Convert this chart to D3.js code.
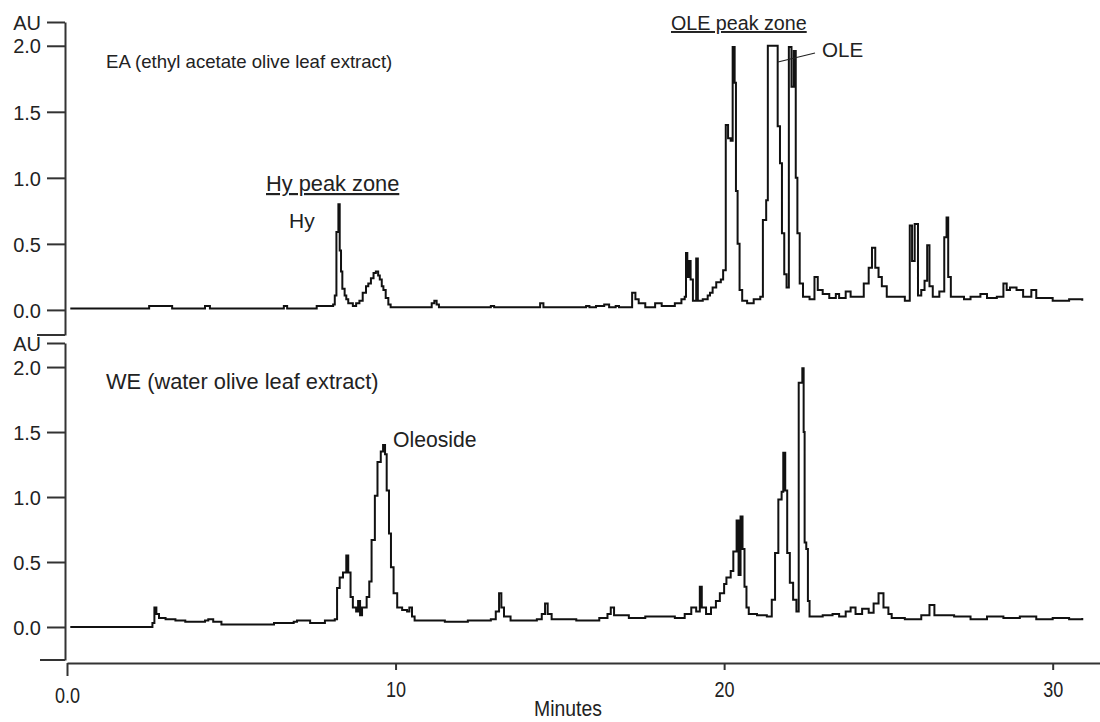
<!DOCTYPE html>
<html lang="en">
<head>
    <meta charset="UTF-8">
    <title>Olive leaf extract chromatograms</title>
    <style>
        body { margin: 0; background: #fff; }
        svg { display: block; font-family: "Liberation Sans", Arial, sans-serif; }
        .axis path, .axis line { stroke: #333; stroke-width: 2px; }
        .axis text { font-size: 20px; fill: #222; }
        .xaxis text { font-size: 22px; }
        .trace { fill: none; stroke: #111; stroke-width: 2px; stroke-linejoin: miter; }
        .note { fill: #222; }
    </style>
</head>
<body>
<svg width="1100" height="722"></svg>
<script src="https://d3js.org/d3.v7.min.js"></script>
<script>
// x ticks (minutes) and y ticks (AU)
const minuteTicks = [0, 10, 20, 30];
const auTicks = [0, 0.5, 1.0, 1.5, 2.0];

// EA trace: [minutes, AU]
const eaTrace = [
    [0.1,0.01],[2.4,0.01],[2.5,0.03],[3.1,0.03],[3.2,0.01],[4.1,0.01],[4.2,0.03],[4.35,0.01],
    [6.5,0.01],[6.6,0.03],[6.7,0.01],[7.5,0.01],[7.6,0.03],[8.1,0.04],[8.15,0.11],[8.2,0.59],
    [8.26,0.80],[8.3,0.45],[8.34,0.29],[8.38,0.16],[8.45,0.11],[8.5,0.08],[8.56,0.05],[8.7,0.03],
    [8.8,0.05],[8.9,0.07],[9.0,0.13],[9.1,0.18],[9.17,0.2],[9.25,0.24],[9.33,0.28],[9.4,0.29],
    [9.47,0.26],[9.52,0.23],[9.58,0.18],[9.63,0.15],[9.7,0.09],[9.78,0.04],[9.85,0.02],[11.0,0.02],
    [11.1,0.05],[11.18,0.07],[11.25,0.04],[11.32,0.02],[12.8,0.02],[12.9,0.03],[13.0,0.02],
    [14.3,0.02],[14.4,0.05],[14.5,0.02],[15.7,0.02],[15.8,0.03],[15.9,0.02],[16.1,0.03],
    [16.35,0.04],[16.5,0.02],[16.7,0.03],[16.8,0.02],[17.15,0.02],[17.2,0.13],[17.3,0.08],
    [17.4,0.05],[17.6,0.02],[17.9,0.05],[18.1,0.03],[18.5,0.05],[18.7,0.08],[18.8,0.1],
    [18.84,0.43],[18.88,0.25],[18.94,0.37],[18.98,0.23],[19.05,0.07],[19.15,0.39],[19.2,0.07],
    [19.35,0.08],[19.5,0.11],[19.57,0.13],[19.65,0.17],[19.76,0.21],[19.9,0.23],[19.97,0.3],
    [20.05,1.40],[20.12,1.3],[20.2,1.28],[20.26,1.99],[20.32,1.72],[20.36,0.9],[20.41,0.5],
    [20.47,0.15],[20.55,0.07],[20.7,0.05],[20.9,0.08],[21.1,0.1],[21.18,0.68],[21.28,0.83],
    [21.33,2.0],[21.58,2.0],[21.63,1.39],[21.7,1.11],[21.76,0.58],[21.83,0.27],[21.9,0.17],
    [21.97,1.99],[22.05,1.69],[22.12,1.96],[22.18,1.0],[22.23,0.58],[22.3,0.2],[22.4,0.1],
    [22.6,0.08],[22.75,0.25],[22.85,0.15],[23.0,0.12],[23.2,0.09],[23.4,0.12],[23.5,0.09],
    [23.7,0.14],[23.85,0.1],[24.1,0.1],[24.25,0.2],[24.4,0.32],[24.5,0.47],[24.6,0.32],
    [24.7,0.25],[24.8,0.18],[24.95,0.1],[25.5,0.07],[25.65,0.64],[25.72,0.37],[25.8,0.65],
    [25.9,0.11],[26.0,0.15],[26.1,0.22],[26.18,0.49],[26.25,0.18],[26.35,0.1],[26.55,0.14],
    [26.7,0.55],[26.77,0.70],[26.82,0.25],[26.9,0.1],[27.3,0.08],[27.5,0.1],[27.8,0.12],
    [28.0,0.09],[28.3,0.1],[28.5,0.2],[28.6,0.15],[28.7,0.17],[28.9,0.15],[29.1,0.1],
    [29.35,0.15],[29.5,0.09],[30.0,0.07],[30.5,0.08],[30.9,0.07]
];

// WE trace: [minutes, AU]
const weTrace = [
    [0.1,0],[2.5,0],[2.6,0.03],[2.66,0.15],[2.72,0.1],[2.8,0.07],[3.0,0.06],[3.3,0.05],
    [3.6,0.04],[4.0,0.04],[4.2,0.05],[4.3,0.06],[4.45,0.04],[4.7,0.02],[5.0,0.02],[6.3,0.03],
    [6.9,0.04],[7.0,0.05],[7.4,0.03],[7.85,0.05],[8.15,0.06],[8.22,0.3],[8.3,0.38],[8.4,0.42],
    [8.5,0.55],[8.56,0.42],[8.63,0.23],[8.7,0.15],[8.8,0.12],[8.86,0.2],[8.92,0.09],[8.98,0.15],
    [9.05,0.15],[9.12,0.23],[9.2,0.35],[9.27,0.67],[9.37,1.01],[9.45,1.27],[9.55,1.35],
    [9.62,1.40],[9.68,1.33],[9.73,1.05],[9.8,0.72],[9.86,0.46],[9.94,0.26],[10.05,0.15],
    [10.2,0.13],[10.35,0.12],[10.42,0.15],[10.5,0.08],[10.58,0.05],[11.5,0.04],[12.2,0.05],
    [12.9,0.06],[13.05,0.12],[13.15,0.26],[13.22,0.15],[13.3,0.08],[13.5,0.05],[14.3,0.06],
    [14.45,0.1],[14.55,0.18],[14.63,0.1],[14.75,0.06],[15.5,0.05],[16.2,0.07],[16.45,0.1],
    [16.55,0.15],[16.65,0.09],[17.0,0.09],[17.1,0.07],[17.6,0.08],[18.5,0.07],[18.8,0.1],
    [19.0,0.15],[19.15,0.12],[19.26,0.31],[19.32,0.15],[19.45,0.1],[19.6,0.15],[19.75,0.2],
    [19.87,0.26],[20.0,0.33],[20.07,0.38],[20.2,0.43],[20.28,0.58],[20.38,0.82],[20.44,0.4],
    [20.5,0.85],[20.56,0.6],[20.62,0.31],[20.68,0.15],[20.75,0.1],[21.0,0.09],[21.3,0.08],
    [21.45,0.21],[21.55,0.57],[21.65,0.98],[21.75,1.04],[21.8,1.34],[21.86,1.05],[21.92,0.57],
    [22.0,0.34],[22.1,0.21],[22.2,0.12],[22.27,1.88],[22.38,1.99],[22.42,1.5],[22.45,0.65],
    [22.5,0.6],[22.55,0.2],[22.6,0.08],[23.0,0.09],[23.3,0.1],[23.5,0.08],[23.7,0.12],
    [23.85,0.15],[24.0,0.1],[24.2,0.14],[24.4,0.11],[24.55,0.18],[24.7,0.26],[24.85,0.15],
    [25.0,0.1],[25.1,0.07],[25.5,0.06],[26.0,0.09],[26.25,0.17],[26.4,0.09],[27.0,0.08],
    [27.5,0.06],[28.0,0.08],[28.5,0.07],[29.0,0.08],[29.5,0.06],[30.0,0.07],[30.5,0.06],[30.9,0.07]
];

const svg = d3.select("svg");

const x = d3.scaleLinear().domain([0, 31.44]).range([67, 1100]);
const yTop = d3.scaleLinear().domain([-0.19, 2.18]).range([335, 22]);
const yBot = d3.scaleLinear().domain([-0.254, 2.185]).range([660, 343]);

const auFormat = d => d > 2.1 ? "AU" : d3.format(".1f")(d);

function drawPanel(y, trace, title, titleSize, cornerX) {
    const g = svg.append("g").attr("class", "axis")
        .attr("transform", `translate(65,0)`)
        .call(d3.axisLeft(y)
            .tickValues(auTicks.concat([y.domain()[1]]))
            .tickFormat(auFormat)
            .tickSize(18)
            .tickPadding(6)
            .tickSizeOuter(0));
    g.selectAll(".tick text").attr("dy", "0.36em");

    // little corner at the bottom of the y axis
    svg.append("line")
        .attr("x1", cornerX).attr("x2", 65)
        .attr("y1", y.range()[0]).attr("y2", y.range()[0])
        .attr("stroke", "#333").attr("stroke-width", 2);

    const line = d3.line()
        .x(d => x(d[0]))
        .y(d => y(d[1]))
        .curve(d3.curveStepAfter);

    svg.append("path")
        .datum(trace)
        .attr("class", "trace")
        .attr("d", line);

    svg.append("text").attr("class", "note")
        .attr("x", 106).attr("y", y(2.0) + 22)
        .style("font-size", titleSize + "px")
        .text(title);
}

drawPanel(yTop, eaTrace, "EA (ethyl acetate olive leaf extract)", 18.6, 37);
drawPanel(yBot, weTrace, "WE (water olive leaf extract)", 21.8, 40);

// x axis, labels narrowed like the original condensed type
const xg = svg.append("g").attr("class", "axis xaxis")
    .attr("transform", "translate(0,663)")
    .call(d3.axisBottom(x)
        .tickValues(minuteTicks)
        .tickFormat(d => d === 0 ? "0.0" : d)
        .tickSize(7)
        .tickPadding(11)
        .tickSizeOuter(0));
xg.selectAll(".tick text").attr("transform", "scale(0.82,1)");
xg.selectAll(".tick").filter(d => d === 0).select("line").attr("y2", 13);
xg.selectAll(".tick").filter(d => d === 0).select("text").attr("y", 24);

svg.append("text")
    .attr("transform", "translate(568,716) scale(0.88,1)")
    .attr("text-anchor", "middle")
    .style("font-size", "22px").attr("fill", "#222")
    .text("Minutes");

// annotations
function note(txt, px, py, size, underline) {
    svg.append("text").attr("class", "note")
        .attr("x", px).attr("y", py)
        .style("font-size", size + "px")
        .attr("text-decoration", underline ? "underline" : null)
        .text(txt);
}
note("Hy peak zone", 266, 191, 21.8, true);
note("Hy", 289, 228, 21, false);
note("OLE peak zone", 671, 30, 19.7, true);
note("OLE", 822, 57, 20.6, false);
note("Oleoside", 393, 447, 21.2, false);
svg.append("line")
    .attr("x1", 778).attr("y1", 62)
    .attr("x2", 815).attr("y2", 53)
    .attr("stroke", "#222").attr("stroke-width", 1.2);
</script>
</body>
</html>
